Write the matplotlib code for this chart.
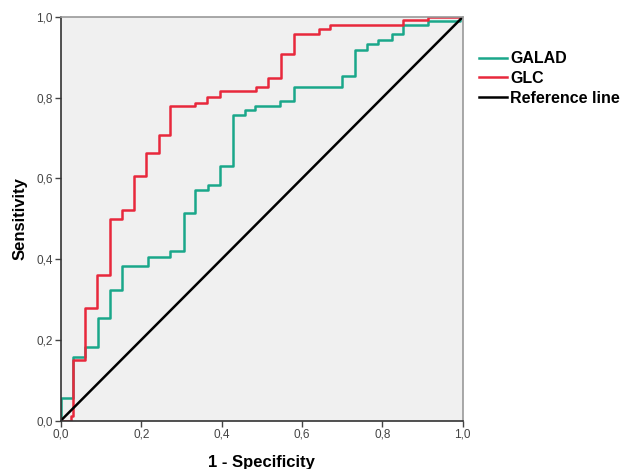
import matplotlib
matplotlib.use("Agg")
import matplotlib.pyplot as plt

# ROC step vertices (1 - specificity, sensitivity)
galad_fpr = [0.0, 0.0, 0.029, 0.060, 0.091, 0.121, 0.152, 0.216, 0.272, 0.305,
             0.334, 0.367, 0.396, 0.428, 0.458, 0.483, 0.545, 0.579, 0.699,
             0.732, 0.761, 0.790, 0.823, 0.852, 0.914, 0.993, 1.0]
galad_tpr = [0.0, 0.057, 0.158, 0.183, 0.255, 0.324, 0.382, 0.406, 0.419, 0.514,
             0.570, 0.584, 0.630, 0.758, 0.770, 0.779, 0.793, 0.827, 0.853,
             0.919, 0.932, 0.942, 0.957, 0.981, 0.990, 1.0, 1.0]

glc_fpr = [0.0, 0.024, 0.031, 0.060, 0.089, 0.121, 0.152, 0.181, 0.212, 0.243,
           0.272, 0.334, 0.363, 0.396, 0.485, 0.516, 0.547, 0.579, 0.641,
           0.670, 0.852, 0.914, 1.0]
glc_tpr = [0.0, 0.012, 0.151, 0.280, 0.360, 0.499, 0.522, 0.607, 0.663, 0.708,
           0.779, 0.787, 0.802, 0.816, 0.827, 0.849, 0.909, 0.957, 0.969,
           0.981, 0.992, 1.0, 1.0]

ref_x = [0.0, 1.0]
ref_y = [0.0, 1.0]

ticks = [0.0, 0.2, 0.4, 0.6, 0.8, 1.0]
tick_labels = ["0,0", "0,2", "0,4", "0,6", "0,8", "1,0"]

plt.rcParams['font.family'] = ['Liberation Sans', 'DejaVu Sans']

fig = plt.figure(figsize=(6.22, 4.69), dpi=100)
ax = fig.add_axes([0.098, 0.1034, 0.646, 0.8604])
ax.set_facecolor('#f0f0f0')

ax.plot(galad_fpr, galad_tpr, drawstyle='steps-post', color='#1aa78a', lw=1.8, label='GALAD')
ax.plot(glc_fpr, glc_tpr, drawstyle='steps-post', color='#e8283c', lw=1.8, label='GLC')
ax.plot(ref_x, ref_y, color='black', lw=1.8, label='Reference line')

ax.set_xlim(0, 1)
ax.set_ylim(0, 1)
ax.set_xticks(ticks)
ax.set_xticklabels(tick_labels)
ax.set_yticks(ticks)
ax.set_yticklabels(tick_labels)
ax.tick_params(direction='out', length=4, width=1, labelsize=8.5, colors='#444444', pad=2)

for side in ['left', 'bottom']:
    ax.spines[side].set_color('#333333')
    ax.spines[side].set_linewidth(1.2)
for side in ['top', 'right']:
    ax.spines[side].set_color('#999999')
    ax.spines[side].set_linewidth(1.2)

ax.set_xlabel('1 - Specificity', fontsize=12, fontweight='bold', labelpad=10)
ax.set_ylabel('Sensitivity', fontsize=12, fontweight='bold', labelpad=6)

leg = ax.legend(loc='upper left', bbox_to_anchor=(1.0, 0.955), frameon=False,
                handlelength=1.75, handletextpad=0.2, labelspacing=0.3,
                borderaxespad=0.6, prop={'weight': 'bold', 'size': 11.5})

fig.savefig('out.png', dpi=100, facecolor='white')
